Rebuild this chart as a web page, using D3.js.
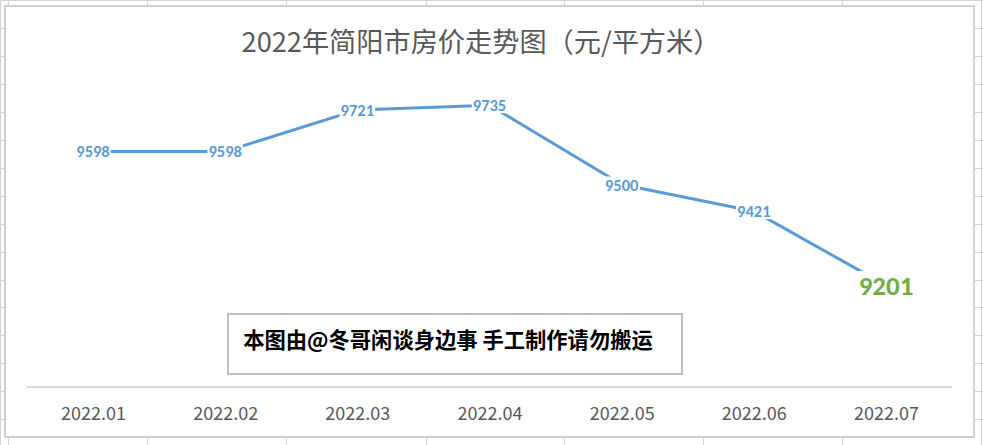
<!DOCTYPE html>
<html><head><meta charset="utf-8">
<script src="https://cdn.jsdelivr.net/npm/d3@7"></script>
<style>
html,body{margin:0;padding:0;background:#fff;}
svg{display:block;}
</style></head>
<body>
<svg id="c" width="983" height="445"></svg>
<script>
// ---- data ----
const categories = ["2022.01","2022.02","2022.03","2022.04","2022.05","2022.06","2022.07"];
const prices = [9598, 9598, 9721, 9735, 9500, 9421, 9201];
const yDomain = [8900, 9800];
const titleText = "2022年简阳市房价走势图（元/平方米）";
const noteText = "本图由@冬哥闲谈身边事 手工制作请勿搬运";
const sheetCols = [0, 8, 147, 286, 426, 564, 703, 842, 981];
const sheetRows = [0, 28, 56, 84, 112, 140, 168, 196, 224, 252, 280, 307, 335, 363, 391, 419, 447];

const W = 983, H = 445;
const svg = d3.select("#c");
const cjk = "'Microsoft YaHei','Noto Sans CJK SC','Noto Sans',sans-serif";
const num = "Carlito,Calibri,'Noto Sans','Open Sans',sans-serif";

// spreadsheet grid in the background
const grid = svg.append("g").attr("stroke", "#d4d4d4").attr("stroke-width", 1);
grid.selectAll("line.v").data(sheetCols).join("line").attr("class","v")
  .attr("x1", d => d + 0.5).attr("x2", d => d + 0.5).attr("y1", 0).attr("y2", H);
grid.selectAll("line.h").data(sheetRows).join("line").attr("class","h")
  .attr("x1", 0).attr("x2", W).attr("y1", d => d + 0.5).attr("y2", d => d + 0.5);

// chart area
const cx = 5, cy = 6, cw = 969, ch = 431;
svg.append("rect").attr("x", cx).attr("y", cy).attr("width", cw).attr("height", ch)
  .attr("fill", "#fff").attr("stroke", "#d0d0d0").attr("stroke-width", 2);

// title
svg.append("text").attr("x", 481).attr("y", 52).attr("text-anchor", "middle")
  .attr("font-family", cjk).attr("font-size", 27.2).attr("fill", "#595959").text(titleText);

// scales
const x = d3.scalePoint().domain(categories).range([93, 886]);
const y = d3.scaleLinear().domain(yDomain).range([387, 83.25]);

// x axis
const xAxis = d3.axisBottom(x).tickSize(0).tickPadding(0);
const gx = svg.append("g").attr("transform", "translate(0,387)").call(xAxis);
gx.select(".domain").attr("d", "M27,0H952").attr("stroke", "#d9d9d9").attr("stroke-width", 2);
gx.selectAll(".tick text").attr("dy", 0).attr("y", 33)
  .attr("font-family", cjk).attr("font-size", 18).attr("fill", "#595959");

// line
const line = d3.line().x((d, i) => x(categories[i])).y(d => y(d));
svg.append("path").datum(prices).attr("d", line)
  .attr("fill", "none").attr("stroke", "#5b9bd5").attr("stroke-width", 3)
  .attr("stroke-linejoin", "round");

// data labels
const last = prices.length - 1;
const lg = svg.append("g");
prices.forEach((v, i) => {
  const g = lg.append("g").attr("transform", `translate(${x(categories[i])},${y(v)})`);
  const t = g.append("text").attr("text-anchor", "middle").attr("dominant-baseline", "central")
    .attr("font-family", num).attr("font-weight", "bold")
    .attr("font-size", i === last ? 27 : 16.5)
    .attr("fill", i === last ? "#70ad47" : "#5b9bd5").text(v);
  const b = t.node().getBBox();
  g.insert("rect", "text").attr("x", b.x - 1).attr("y", b.y + 2).attr("width", b.width + 2)
    .attr("height", b.height - 4).attr("fill", "#fff");
});

// watermark box
svg.append("rect").attr("x", 228).attr("y", 314).attr("width", 454).attr("height", 60)
  .attr("fill", "#fff").attr("stroke", "#bfbfbf").attr("stroke-width", 2);
svg.append("text").attr("x", 448).attr("y", 348).attr("text-anchor", "middle")
  .attr("font-family", cjk).attr("font-weight", "bold").attr("font-size", 21.3)
  .attr("fill", "#000").text(noteText);
</script>
</body></html>
